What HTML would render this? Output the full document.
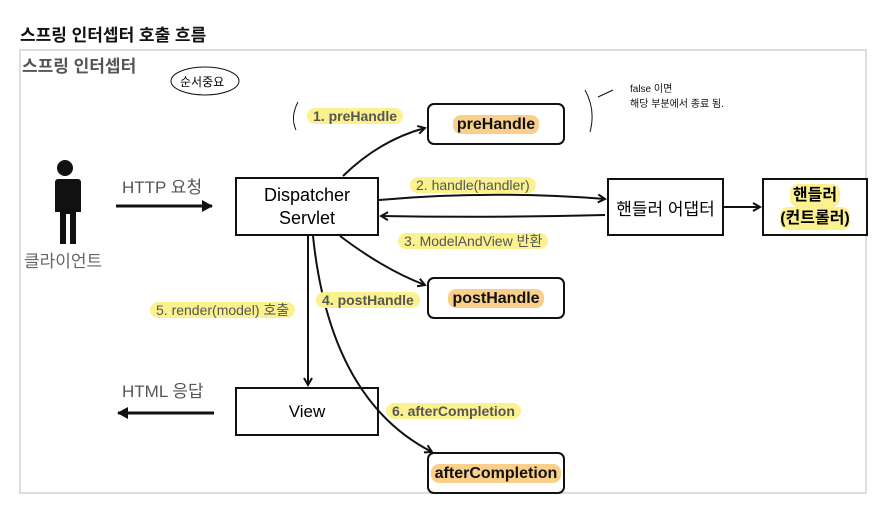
<!DOCTYPE html>
<html><head><meta charset="utf-8"><style>
body{margin:0;width:885px;height:507px;background:#fff;position:relative;overflow:hidden;font-family:"Liberation Sans","Noto Sans CJK KR",sans-serif}
.a{position:absolute;white-space:nowrap}
.box{position:absolute;border:2px solid #111;box-sizing:border-box;display:flex;align-items:center;justify-content:center;text-align:center;background:#fff}
.r{border-radius:7px}
.y{background:#fbf28f;border-radius:8px;color:#555;font-size:14px;padding:0 6px;line-height:16px}
.o{background:#f9cf8a;border-radius:8px;padding:0 4px;font-weight:bold;font-size:16px;color:#111;line-height:19px}
svg{position:absolute;left:0;top:0}
</style></head><body>
<div class="a" style="left:20px;top:21px;font-size:17px;font-weight:bold;color:#111">스프링 인터셉터 호출 흐름</div>
<div style="position:absolute;left:19px;top:49px;width:848px;height:445px;border:2px solid #ddd;box-sizing:border-box"></div>
<div class="a" style="left:22px;top:52px;font-size:17px;font-weight:bold;color:#555">스프링 인터셉터</div>
<div class="a" style="left:24px;top:247px;font-size:17px;color:#666">클라이언트</div>
<div class="a" style="left:122px;top:173px;font-size:17px;color:#555">HTTP 요청</div>
<div class="a" style="left:122px;top:377px;font-size:17px;color:#555">HTML 응답</div>
<div class="box" style="left:235px;top:177px;width:144px;height:59px;font-size:18px;line-height:23px">Dispatcher<br>Servlet</div>
<div class="box" style="left:235px;top:387px;width:144px;height:49px;font-size:17px">View</div>
<div class="box" style="left:607px;top:178px;width:117px;height:58px;font-size:17px">핸들러 어댑터</div>
<div class="box" style="left:762px;top:178px;width:106px;height:58px;font-size:16px;font-weight:bold;line-height:23px;flex-direction:column"><span style="background:#fbf28f;border-radius:8px;padding:0 3px">핸들러</span><span style="background:#fbf28f;border-radius:8px">(컨트롤러)</span></div>
<div class="box r" style="left:427px;top:103px;width:138px;height:42px"><span class="o">preHandle</span></div>
<div class="box r" style="left:427px;top:277px;width:138px;height:42px"><span class="o">postHandle</span></div>
<div class="box r" style="left:427px;top:452px;width:138px;height:42px"><span class="o">afterCompletion</span></div>
<svg width="885" height="507">
<defs><marker id="m" markerWidth="10" markerHeight="10" refX="8" refY="5" orient="auto" markerUnits="userSpaceOnUse"><path d="M1,1 L8,5 L1,9" fill="none" stroke="#111" stroke-width="2"/></marker>
<marker id="t" markerWidth="12" markerHeight="12" refX="10" refY="6" orient="auto" markerUnits="userSpaceOnUse"><path d="M0,0 L11,6 L0,12Z" fill="#111"/></marker></defs>
<ellipse cx="205" cy="81" rx="34" ry="14" fill="none" stroke="#111" stroke-width="1"/>
<text x="180" y="86" font-size="12" font-family="Noto Sans CJK KR, sans-serif">순서중요</text>
<g stroke="#111" stroke-width="2" fill="none">
<path d="M116,206 L212,206" stroke-width="3" marker-end="url(#t)"/>
<path d="M214,413 L118,413" stroke-width="3" marker-end="url(#t)"/>
<path d="M343,176 Q380,140 425,128" marker-end="url(#m)"/>
<path d="M379,200 Q490,190 605,199" marker-end="url(#m)"/>
<path d="M605,215 Q490,218 381,216" marker-end="url(#m)"/>
<path d="M724,207 L760,207" marker-end="url(#m)"/>
<path d="M340,236 Q385,270 425,285" marker-end="url(#m)"/>
<path d="M308,236 L308,385" marker-end="url(#m)"/>
<path d="M313,236 Q330,400 432,452" marker-end="url(#m)"/>
</g>
<g stroke="#111" stroke-width="1" fill="none">
<path d="M298,102 Q290,117 296,130"/><path d="M585,90 Q596,110 590,132"/><path d="M598,97 L613,90"/>
</g>
<g fill="#111">
<circle cx="65" cy="168" r="8"/>
<path d="M52,179 h26 a3,3 0 0 1 3,3 v30 h-5 v32 h-6 v-30 h-4 v30 h-6 v-32 h-5 v-30 a3,3 0 0 1 3,-3z"/>
</g>
<text x="630" y="92" font-size="10" fill="#111">false 이면</text>
<text x="630" y="107" font-size="10" fill="#111">해당 부분에서 종료 됨.</text>
</svg>
<div class="a y" style="left:307px;top:108px;font-weight:bold">1. preHandle</div>
<div class="a y" style="left:410px;top:177px">2. handle(handler)</div>
<div class="a y" style="left:398px;top:233px">3. ModelAndView 반환</div>
<div class="a y" style="left:316px;top:292px;font-weight:bold">4. postHandle</div>
<div class="a y" style="left:150px;top:302px">5. render(model) 호출</div>
<div class="a y" style="left:386px;top:403px;font-weight:bold">6. afterCompletion</div>
</body></html>
